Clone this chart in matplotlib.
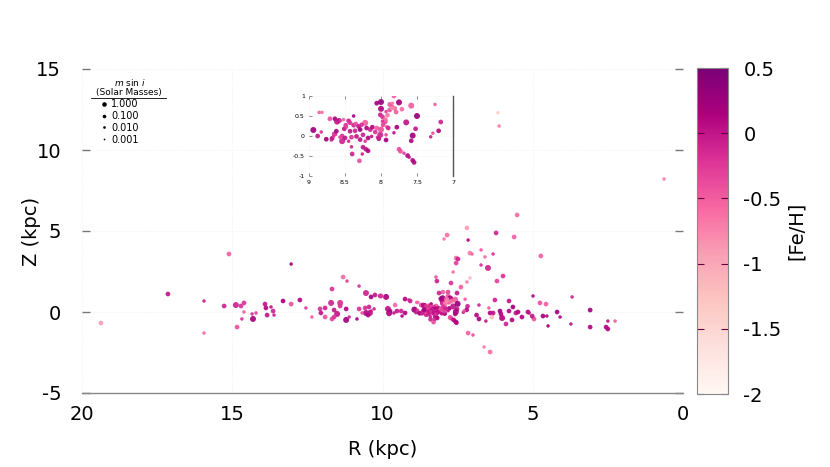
import numpy as np
import matplotlib
matplotlib.use("Agg")
import matplotlib.pyplot as plt
from matplotlib.lines import Line2D
from matplotlib.colors import LinearSegmentedColormap

plt.rcParams["axes.unicode_minus"] = False

# ---------------- data ----------------
# size classes (m sin i, solar masses)
L, M, S = 15.0, 0.8, 0.05

# distant systems: (R kpc, Z kpc, m sin i, [Fe/H])
far_R = [19.37, 17.14, 15.94, 15.94, 15.11, 13.04, 0.63, 6.16, 6.12, 15.27, 14.88, 14.71, 14.61, 14.61, 14.68,
         14.84, 14.31, 14.34, 14.21, 13.91, 13.88, 13.71, 13.64, 13.61, 13.84, 13.31, 13.04, 12.75, 12.55, 12.35,
         12.08, 11.91, 12.05, 11.91, 11.68, 11.71, 11.41, 11.41, 11.68, 11.31, 11.18, 11.61, 11.51, 11.61, 11.21,
         11.21, 11.11, 10.85, 10.78, 10.55, 10.38, 10.25, 10.08, 9.88, 10.78, 10.58, 10.45, 10.55, 10.42, 10.48,
         10.38, 10.68, 10.28, 9.82, 9.75, 9.78, 9.58, 9.52, 9.38, 9.62, 9.25, 9.35, 9.25, 9.12, 8.19,
         7.72, 7.39, 7.19, 7.99, 8.12, 7.82, 7.52, 6.79, 6.46, 6.26, 6.87, 6.79, 6.56, 6.42, 6.36,
         6.32, 7.15, 6.99, 6.62, 6.42, 5.52, 7.19, 7.85, 7.95, 7.15, 6.22, 5.62, 4.73, 7.09, 7.02,
         6.72, 6.59, 6.32, 7.55, 7.49, 7.55, 6.72, 6.49, 7.65, 5.99, 6.19, 8.22, 7.09, 4.99, 3.69,
         10.05, 5.79, 4.76, 4.56, 6.09, 6.06, 5.79, 5.66, 5.56, 5.49, 5.16, 5.12, 5.36, 4.19, 3.09,
         4.66, 4.53, 4.09, 4.96, 5.02, 5.69, 6.02, 5.89, 3.73, 4.49, 3.09, 2.56, 2.50, 2.50, 2.26,
         9.78, 9.08]
far_Z = [-0.68, 1.11, 0.68, -1.30, 3.58, 2.96, 8.21, 12.30, 11.48, 0.37, 0.43, 0.37, 0.56, 0.00, -0.43,
         -0.93, -0.43, -0.12, -0.06, 0.49, 0.25, 0.31, 0.06, -0.19, -0.19, 0.68, 0.49, 0.74, 0.25, -0.31,
         0.19, 0.25, -0.06, -0.31, -0.43, 0.56, 0.56, 0.37, 1.42, 2.16, 1.91, 0.12, -0.12, -0.31, 0.19,
         -0.49, -0.31, -0.43, 1.60, 1.17, 0.93, 1.05, 0.99, 0.93, 0.19, 0.25, 0.31, -0.06, -0.06, -0.19,
         0.06, -0.06, 0.19, 0.19, 0.06, -0.06, 0.43, 0.06, 0.06, -0.06, -0.06, -0.25, 0.80, 0.74, 1.91,
         1.79, 1.54, 1.85, 1.23, 1.17, 1.23, 1.17, 0.43, 0.25, 0.74, -0.19, -0.43, -0.56, -0.06, -0.31,
         -0.06, -1.30, -1.42, -2.16, -2.47, 5.99, 5.19, 4.75, 4.51, 4.44, 4.88, 4.63, 3.46, 3.64, 3.58,
         3.83, 3.40, 3.58, 3.33, 3.27, 3.02, 2.90, 2.72, 2.47, 2.22, 1.91, 2.16, 2.10, 0.99, 0.93,
         0.99, 0.68, 0.56, 0.49, 0.06, -0.12, 0.06, 0.31, -0.06, 0.00, 0.00, -0.06, -0.31, 0.00, 0.12,
         -0.25, -0.25, -0.31, -0.43, -0.25, -0.49, -0.37, -0.74, -0.74, -0.86, -0.93, -0.93, -1.05, -0.56, -0.56,
         -0.12, 0.68]
far_m = [M, M, S, S, M, S, S, S, S, M, L, M, M, S, S,
         M, L, S, S, M, M, S, M, S, M, M, M, M, S, S,
         M, M, M, M, M, L, L, M, M, M, S, M, L, M, M,
         L, S, S, S, L, M, M, M, L, M, M, M, L, L, M,
         S, S, S, L, M, L, M, M, M, S, M, S, M, S, M,
         M, M, S, M, M, M, M, S, S, M, M, M, S, M, M,
         M, M, S, S, M, M, M, M, S, S, M, M, M, M, S,
         S, S, S, M, M, M, S, L, S, M, M, S, S, S, S,
         M, M, M, M, M, M, M, M, M, M, M, S, M, M, M,
         M, S, S, M, M, M, L, M, S, S, M, M, M, S, S,
         M, M]
far_feh = [-0.9, 0.0, -0.1, -0.6, -0.5, 0.2, -0.7, -1.4, -0.7, -0.1, -0.1, -0.2, -0.2, -0.5, -0.2,
           -0.4, 0.15, -0.2, -0.3, 0.0, 0.1, 0.0, -0.1, -0.1, 0.0, 0.15, -0.4, 0.1, -0.3, -0.5,
           -0.2, -0.1, 0.0, -0.4, -0.3, -0.1, -0.2, -0.2, -0.2, -0.6, -0.3, 0.0, 0.0, -0.2, 0.1,
           0.2, -0.1, 0.2, -0.2, -0.1, 0.2, 0.0, -0.1, 0.15, -0.2, -0.2, -0.1, 0.1, 0.0, 0.1,
           0.0, -0.4, -0.1, 0.0, 0.1, 0.15, -0.6, 0.0, -0.1, 0.0, 0.1, 0.1, 0.1, -0.1, -0.1,
           -0.2, -0.5, -0.7, -0.5, -0.1, -0.3, 0.0, -0.1, -0.5, -0.1, 0.1, 0.15, 0.0, 0.1, -1.2,
           0.0, -0.5, -0.4, -0.7, -0.6, -0.6, -0.9, -0.6, -0.7, 0.1, -0.1, -0.5, -0.5, -0.7, -0.6,
           -0.5, -0.6, -0.2, -0.6, -0.1, -0.3, -0.2, -0.1, -0.6, -0.2, -0.3, -0.4, -1.2, 0.1, -0.1,
           -0.2, 0.0, -0.4, -0.5, 0.2, 0.1, 0.1, 0.2, 0.0, 0.1, 0.1, 0.0, 0.1, 0.2, 0.2,
           0.2, 0.1, 0.1, -0.4, 0.0, 0.1, 0.1, -0.1, 0.0, 0.2, 0.1, 0.1, 0.1, 0.0, -0.5,
           0.0, -0.1]

# local systems (solar neighbourhood, shown in the inset)
loc_R = [8.94, 8.88, 8.86, 8.82, 8.83, 8.76, 8.71, 8.68, 8.65, 8.63, 8.64, 8.61, 8.58, 8.54, 8.54,
         8.51, 8.49, 8.45, 8.38, 8.41, 8.40, 8.30, 8.25, 8.21, 8.18, 8.26, 8.22, 8.06, 8.00, 8.00,
         8.01, 7.98, 7.82, 7.88, 7.85, 7.88, 7.93, 7.94, 7.92, 7.81, 7.79, 7.75, 7.71, 7.78, 7.82,
         7.93, 8.05, 7.75, 7.73, 7.68, 7.65, 7.58, 7.50, 7.52, 7.56, 7.58, 7.63, 7.61, 7.56, 7.54,
         7.25, 7.17, 7.20, 7.31, 7.28,
         8.52, 8.43, 8.38, 8.35, 8.31, 8.27, 8.20, 8.29, 8.36, 8.43, 8.48, 8.15, 8.12, 8.08, 8.06,
         8.25, 8.34, 8.41, 8.50, 8.57, 8.66, 8.18, 8.13, 8.01, 8.03, 8.00, 7.97, 7.94, 7.91, 7.85,
         7.84, 7.98, 7.90, 7.93, 8.62, 8.57, 8.69, 8.45, 8.29, 8.22]
loc_Z = [0.15, 0.00, 0.59, 0.59, 0.10, -0.08, 0.43, -0.06, 0.05, 0.04, 0.43, 0.36, 0.39, -0.13, 0.00,
         0.18, 0.27, 0.38, 0.50, -0.27, -0.45, -0.62, -0.28, -0.33, -0.37, -0.45, 0.33, 0.82, 0.85, 0.68,
         0.53, 0.48, 1.00, 0.79, 0.73, 0.65, 0.61, 0.36, 0.23, 0.69, 0.60, 0.84, 0.67, 0.22, 0.08,
         -0.10, -0.03, -0.33, -0.38, -0.43, 0.34, 0.76, 0.50, 0.18, 0.01, -0.12, -0.49, -0.53, -0.61, -0.66,
         0.79, 0.35, 0.13, -0.02, 0.07,
         0.41, 0.33, 0.27, 0.30, 0.24, 0.28, 0.20, 0.16, 0.13, 0.12, 0.22, 0.16, 0.22, 0.10, 0.20,
         0.03, -0.01, -0.03, -0.05, -0.03, -0.01, -0.05, -0.01, 0.03, -0.07, 0.16, 0.28, 0.41, 0.52, 0.70,
         0.82, 0.37, 0.20, 0.03, 0.12, 0.38, -0.10, -0.13, -0.09, -0.13]
loc_m = [L, M, S, S, S, M, M, M, M, S, M, L, M, L, M,
         M, M, M, S, S, M, M, M, M, M, S, L, M, L, L,
         M, M, M, M, M, M, S, M, S, M, M, L, M, M, S,
         M, S, M, M, S, L, L, L, M, L, M, M, S, M, M,
         S, M, M, S, S,
         S, M, M, M, M, M, M, M, M, M, S, M, M, M, M,
         M, M, M, M, S, S, M, S, L, M, L, M, M, M, M,
         S, S, M, S, M, S, S, S, M, S]
loc_feh = [0.25, 0.0, -0.5, -0.6, -0.2, 0.2, -0.4, 0.1, -0.2, -0.3, 0.2, 0.0, 0.1, -0.1, -0.2,
           0.0, -0.2, -0.1, 0.2, -0.1, -0.1, -0.4, 0.0, 0.0, 0.1, -0.1, -0.5, 0.2, 0.3, 0.1,
           -0.1, -0.2, -0.5, -0.5, -0.3, -0.4, -0.3, -0.3, -0.5, -0.6, -0.5, 0.2, -0.6, 0.2, 0.0,
           0.2, -0.2, -0.4, -0.4, -0.3, 0.0, -0.5, 0.3, 0.0, 0.2, 0.1, 0.1, 0.0, 0.1, 0.1,
           -0.5, -0.1, 0.1, -0.1, -0.4,
           -0.5, -0.2, -0.1, -0.4, 0.0, -0.2, 0.1, 0.2, -0.1, 0.0, -0.3, -0.1, 0.1, -0.2, -0.5,
           -0.1, 0.0, -0.2, 0.0, -0.3, -0.2, 0.1, 0.0, -0.1, 0.0, -0.4, -0.3, -0.6, -0.7, -0.8,
           -0.7, -0.2, -0.1, -0.3, 0.2, -0.2, -0.1, -0.1, 0.0, -0.2]

legend_masses = [1.0, 0.1, 0.01, 0.001]
legend_labels = ["1.000", "0.100", "0.010", "0.001"]

R = np.array(far_R + loc_R)
Z = np.array(far_Z + loc_Z)
msini = np.array(far_m + loc_m)
feh = np.array(far_feh + loc_feh)

def diam_pt(m):
    d_px = 4.8 + np.log10(m)
    return d_px * 0.72

sizes = diam_pt(msini) ** 2

# RdPu, stopping at its dark purple (not the darkest end)
base = plt.get_cmap("RdPu")
cmap = LinearSegmentedColormap.from_list("RdPu_trunc", base(np.linspace(0.0, 0.875, 256)))

# ---------------- figure ----------------
fig = plt.figure(figsize=(8.3, 4.67), dpi=100)
ax = fig.add_axes([82/830, 1-393/467, 601/830, 324/467])
sc = ax.scatter(R, Z, s=sizes, c=feh, cmap=cmap, vmin=-2, vmax=0.5,
                linewidths=0, alpha=0.92, zorder=3)
ax.set_xlim(20, 0)
ax.set_ylim(-5, 15)
ax.set_xticks([20, 15, 10, 5, 0])
ax.set_yticks([-5, 0, 5, 10, 15])
for s in ["top", "left", "right"]:
    ax.spines[s].set_visible(False)
ax.spines["bottom"].set_color("#888888")
ax.spines["bottom"].set_linewidth(1.0)
ax.tick_params(axis="y", direction="in", length=6, color="#777777", width=1,
               left=True, right=True, labelsize=14, pad=15)
ax.tick_params(axis="x", length=0, labelsize=14, pad=9)
ax.grid(True, color="#eeeeee", linestyle=":", linewidth=0.6, zorder=0)
ax.set_xlabel("R (kpc)", fontsize=14)
ax.set_ylabel("Z (kpc)", fontsize=14)
ax.xaxis.set_label_coords(0.5, -0.145)
ax.yaxis.set_label_coords(-0.068, 0.50)

# ---------------- inset ----------------
ins = fig.add_axes([309/830, 1-176/467, 144/830, 80/467])
ins.set_facecolor("none")
ins.scatter(R, Z, s=sizes, c=feh, cmap=cmap, vmin=-2, vmax=0.5,
            linewidths=0, alpha=0.92, zorder=3)
ins.set_xlim(9, 7)
ins.set_ylim(-1, 1)
ins.set_xticks([9, 8.5, 8, 7.5, 7])
ins.set_xticklabels(["9", "8.5", "8", "7.5", "7"])
ins.set_yticks([-1, -0.5, 0, 0.5, 1])
ins.set_yticklabels(["-1", "-0.5", "0", "0.5", "1"])
for s in ["top", "left", "bottom"]:
    ins.spines[s].set_visible(False)
ins.spines["right"].set_color("#555555")
ins.spines["right"].set_linewidth(1.0)
ins.tick_params(direction="in", length=2, color="#777777", width=0.6,
                labelsize=4.5, pad=3, top=True, right=False)
ins.grid(True, color="#eeeeee", linestyle=":", linewidth=0.5, zorder=0)

# ---------------- colorbar ----------------
cax = fig.add_axes([697/830, 1-394/467, 31/830, 326/467])
cb = fig.colorbar(sc, cax=cax)
cb.solids.set_alpha(1)
cb.set_ticks([0.5, 0, -0.5, -1, -1.5, -2])
cb.set_ticklabels(["0.5", "0", "-0.5", "-1", "-1.5", "-2"])
cb.outline.set_edgecolor("#888888")
cb.outline.set_linewidth(0.8)
cax.tick_params(direction="in", length=5, color="#66003f", width=0.8,
                left=True, right=True, labelsize=14, pad=11)
cax.set_ylabel("[Fe/H]", fontsize=14)
cax.yaxis.set_label_coords(2.9, 0.50)

# ---------------- size legend ----------------
handles = [Line2D([], [], marker="o", linestyle="", color="black",
                  markersize=diam_pt(m) * 0.95, markeredgewidth=0) for m in legend_masses]
leg = fig.legend(handles, legend_labels, loc="upper left",
                 bbox_to_anchor=(101/830, 1-99/467), frameon=False,
                 fontsize=7, handlelength=0.7, handletextpad=0.35,
                 labelspacing=0.2, borderpad=0, borderaxespad=0)
fig.text(130/830, 1-82/467, r"$m$ sin $i$", ha="center", va="center", fontsize=6.5)
fig.text(129/830, 1-92.5/467, "(Solar Masses)", ha="center", va="center", fontsize=6.5)
fig.add_artist(Line2D([91/830, 166/830], [1-97.5/467, 1-97.5/467],
                      transform=fig.transFigure, color="black", linewidth=0.6))

fig.savefig("out.png", dpi=100)
